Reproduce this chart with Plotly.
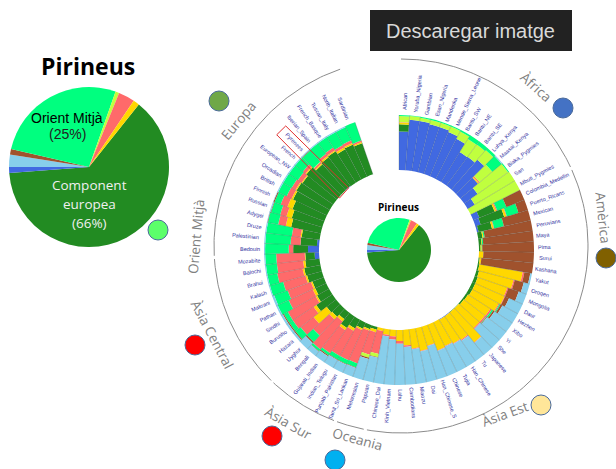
import math
import plotly.graph_objects as go

populations = ["African","Yoruba_Nigeria","Gambian","Esan_Nigeria","Mandenka","Mende_Sierra_Leone","Bantu_SW","Bantu_NE","Bantu_SE","Luhya_Kenya","Maasai_Kenya","Biaka_Pygmies","San","Mbuti_Pygmies","Colombia_Medellin","Puerto_Ricans","Mexican","Peruvians","Maya","Pima","Surui","Kashana","Yakut","Oroqen","Mongolia","Daur","Hezhen","Xibo","Yi","She","Japanese","Tu","Han_Chinese","Tujia","Chinese","Han_Chinese_S","Dai","Miaozu","Cambodians","Lahu","Kinh_Vietnam","Chinese_Dai","Papuan","Melanesian","Tamil_Sri_Lankan","Punjabi_Pakistan","Indian_Telugu","Gujarati_Indian","Bengali","Uyghur","Hazara","Burusho","Sindhi","Pathan","Makrani","Kalash","Brahui","Balochi","Mozabite","Bedouin","Palestinian","Druze","Adygei","Russian","Finnish","British","Orcadian","European_NW","French","Pyrenees","Iberian_Spain","French_Basque","Tuscan_Italy","North_Italian","Sardinian"]

blue   = [70,92,92,90,90,87,82,64,65,72,42,30,15,0,12,10,3,0,0,0,0,0,0, 0,0,0,0,0,0,0,0,1,1,0,0,0,0,0,0,0,0,0,0, 0,0,0,0,0,0,0,0,0,0,0,0,0,0,0,8,20,4,0,0,0,0,0,0,0,0,0,1,0,0,0,0]
forest = [13,0,0,0,0,0,0,0,0,0,0,0,0,0,30,45,25,8,5,3,0,2,3, 5,6,6,6,4,3,1,1,0,0,0,0,0,0,0,0,0,0,0,0, 5,8,12,18,25,15,15,22,35,25,22,22,28,30,26,17,27,30,33,55,58,62,68,70,68,72,63,66,68,62,64,60]
gold   = [3,0,0,0,0,0,0,0,0,0,2,0,0,0,3,4,3,2,1,2,8,3,80, 65,57,58,54,48,48,50,70,52,50,48,50,36,42,35,28,20,12,10,5, 5,3,3,5,5,5,5,30,6,3,5,3,3,3,4,1,0,0,2,10,10,10,3,2,2,2,2,3,2,4,3,2]
salmon = [1,0,0,0,0,0,0,0,0,0,2,0,0,0,2,1,1,0,0,0,0,0,3, 2,2,1,2,3,3,2,1,2,1,1,1,1,1,1,3,5,6,3,42, 42,63,60,52,50,65,30,30,45,58,48,45,42,47,48,52,8,18,16,14,12,13,10,8,8,6,3,5,6,5,5,3]
lime   = [11,7,6,8,8,11,15,28,28,23,30,68,85,100,0,0,0,0,0,0,0,0,0, 0,0,0,0,0,0,0,0,0,0,0,0,0,0,0,0,0,0,0,6, 6,0,0,0,0,0,0,0,0,0,0,0,0,0,0,0,0,0,0,0,0,0,0,0,0,0,1,0,0,0,0,0]
spring = [2,1,2,2,2,2,3,8,7,5,22,2,0,0,18,22,18,2,2,1,0,0,0, 0,0,0,2,3,1,0,0,0,0,0,0,0,0,0,0,0,0,0,0, 0,8,8,8,5,4,12,12,8,8,22,26,25,18,20,20,43,46,47,19,17,12,17,18,20,18,27,24,22,27,26,35]
brown  = [0,0,0,0,0,0,0,0,0,0,0,0,0,0,35,18,50,88,92,94,92,95,11, 17,20,8,4,3,1,0,0,0,0,0,0,0,0,0,0,0,0,0,1, 2,1,1,1,2,1,2,2,2,2,0,0,0,0,0,0,0,0,0,1,1,2,0,0,0,0,1,0,0,0,0,0]
sky    = [0,0,0,0,0,0,0,0,0,0,2,0,0,0,0,0,0,0,0,0,0,0,3, 11,15,27,32,39,44,47,28,45,48,51,49,63,57,63,69,75,82,87,46, 40,17,16,16,13,10,11,4,4,4,3,4,2,2,2,2,2,2,2,1,2,1,2,2,2,2,2,2,2,2,2,0]

component_colors = ["#4169e1","#228b22","#ffd700","#ff6a6a","#c0ff3e","#00ff7f","#a0522d","#87ceeb"]
components = [blue, forest, gold, salmon, lime, spring, brown, sky]

pie_values = [63.1,1.2,2.5,1.1,26.8,0.75,3.3,1.25]
pie_colors = ["#228b22","#4169e1","#87ceeb","#a0522d","#00ff7f","#c0ff3e","#ff6a6a","#ffd700"]

region_names = ["Europa","Àfrica","Amèrica","Àsia Est","Oceania","Àsia Sur","Àsia Central","Orient Mitjà"]
region_x = [238,536,603,505,357,288,212,196]
region_y = [121,87,218,414,439,423,334,237]
region_rot = [-50,42,84,-20,15,30,62,-85]

dot_x = [219,563,606,541,195,272,335,158]
dot_y = [101,108,258,405,345,436,460,230]
dot_colors = ["#70a848","#4472c4","#806000","#ffe699","#ff0000","#ff0000","#00b0f0","#5cff6a"]

arc_spans = [(0,65),(66,190.5),(191.5,200),(201,223),(224,266),(267,341)]
ARC_X, ARC_Y, ARC_R = 401, 246, 187

CX, CY, R_MAX = 399, 250, 170
R_IN, R_OUT = 80, 135
STEP = 341/75
centers = [STEP*(i+0.5) for i in range(75)]
totals = [sum(c[i] for c in components) for i in range(75)]

fig = go.Figure()
cum = [R_IN]*75
for vals, col in zip(components, component_colors):
    h = [(R_OUT-R_IN)*v/t for v,t in zip(vals,totals)]
    fig.add_trace(go.Barpolar(r=h, theta=centers, base=cum, width=STEP,
                              marker=dict(color=col, line=dict(width=0)), showlegend=False, hoverinfo="skip"))
    cum = [a+b for a,b in zip(cum,h)]

sep_r, sep_t = [], []
for i in range(76):
    sep_r += [R_IN, R_OUT, None]; sep_t += [STEP*i, STEP*i, None]
fig.add_trace(go.Scatterpolar(r=sep_r, theta=sep_t, mode="lines", line=dict(color="rgba(70,90,90,0.45)", width=0.6),
                              showlegend=False, hoverinfo="skip"))
fig.add_trace(go.Scatterpolar(r=[168,168,80,79,168], theta=[313.3,317.6,321,311,313.3], mode="lines",
                              line=dict(color="#e03030", width=1), showlegend=False, hoverinfo="skip"))

fig.add_trace(go.Pie(values=pie_values, marker=dict(colors=pie_colors, line=dict(width=0)), sort=False, direction="clockwise",
                     rotation=38.5, textinfo="none", hoverinfo="skip", showlegend=False,
                     domain=dict(x=[9/616,169/616], y=[(469-247)/469,(469-87)/469])))
fig.add_trace(go.Pie(values=pie_values, marker=dict(colors=pie_colors, line=dict(width=0)), sort=False, direction="clockwise",
                     rotation=38.5, textinfo="none", hoverinfo="skip", showlegend=False,
                     domain=dict(x=[(CX-32)/616,(CX+32)/616], y=[(469-CY-32)/469,(469-CY+32)/469])))

for a,b in arc_spans:
    th = [math.radians(a+(b-a)*k/80) for k in range(81)]
    fig.add_trace(go.Scatter(x=[ARC_X+ARC_R*math.sin(t) for t in th], y=[ARC_Y-ARC_R*math.cos(t) for t in th],
                             mode="lines", line=dict(color="#8c8c8c", width=1), showlegend=False, hoverinfo="skip"))
fig.add_trace(go.Scatter(x=dot_x, y=dot_y, mode="markers", showlegend=False, hoverinfo="skip",
                         marker=dict(size=20, color=dot_colors, line=dict(color="#4a6a9a", width=1))))

anns = []
for name, th in zip(populations, centers):
    rr = 140 + len(name)*1.3
    a = math.radians(th)
    ang = th-90 if th < 180 else th-270
    anns.append(dict(x=CX+rr*math.sin(a), y=CY-rr*math.cos(a), xref="x", yref="y", text=name, showarrow=False,
                     textangle=ang, font=dict(family="Liberation Sans", size=5.5, color="#3030a0")))
for n,x,y,r in zip(region_names, region_x, region_y, region_rot):
    anns.append(dict(x=x,y=y,xref="x",yref="y",text=n,showarrow=False,textangle=r,
                     font=dict(family="Open Sans", size=13.5, color="#808080")))
texts = [("Pirineus",88,66,23,"Open Sans","black",True),("Pirineus",398,207,10,"Open Sans","black",True),
         ("Orient Mitjà",67,118,14,"Liberation Sans","black",False),("(25%)",67,134,14,"Liberation Sans","#222222",False),
         ("Component",89,185,13.5,"Open Sans","#f0f0f0",False),("europea",89,204,13.5,"Open Sans","#f0f0f0",False),("(66%)",89,223,13.5,"Open Sans","#f0f0f0",False),
         ("Descaregar imatge",470,31,20,"Liberation Sans","#d9d9d9",False)]
for t,x,y,s,f,c,b in texts:
    anns.append(dict(x=x,y=y,xref="x",yref="y",text=f"<b>{t}</b>" if b else t,showarrow=False,font=dict(family=f,size=s,color=c)))

fig.update_layout(width=616, height=469, margin=dict(l=0,r=0,t=0,b=0), paper_bgcolor="white", plot_bgcolor="white",
    xaxis=dict(range=[0,616], visible=False, domain=[0,1]), yaxis=dict(range=[469,0], visible=False, domain=[0,1]),
    polar=dict(domain=dict(x=[(CX-R_MAX)/616,(CX+R_MAX)/616], y=[(469-CY-R_MAX)/469,(469-CY+R_MAX)/469]),
               bgcolor="rgba(0,0,0,0)", barmode="overlay",
               radialaxis=dict(range=[0,R_MAX], visible=False),
               angularaxis=dict(visible=False, direction="clockwise", rotation=90)),
    shapes=[dict(type="rect", xref="x", yref="y", x0=370,x1=572,y0=10,y1=51, fillcolor="#222222", line=dict(width=0), layer="below")],
    annotations=anns)
fig.write_html("out.html", post_script="document.body.style.margin='0';document.documentElement.style.overflow='hidden';",
               config=dict(displayModeBar=False))
